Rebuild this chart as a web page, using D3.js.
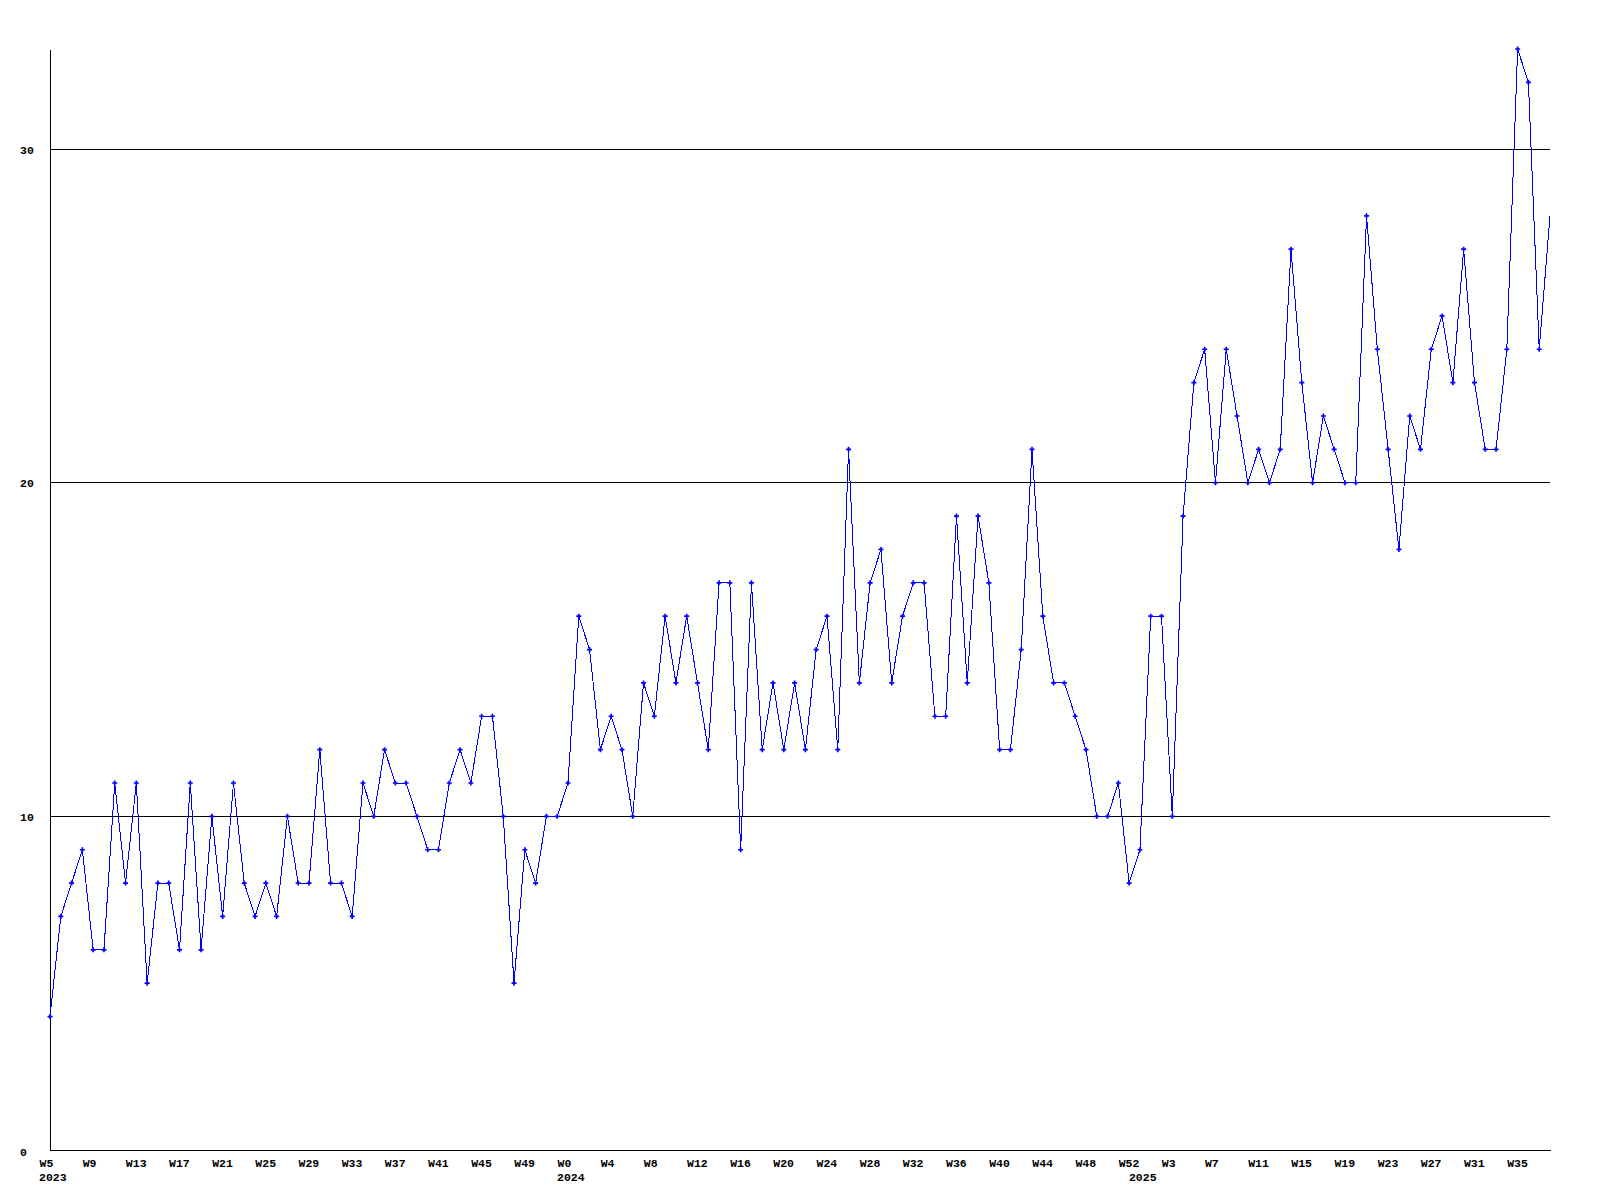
<!DOCTYPE html>
<html>
<head>
<meta charset="utf-8">
<script src="https://cdn.jsdelivr.net/npm/d3@7"></script>
<style>
  html, body { margin: 0; padding: 0; background: #ffffff; }
  svg { display: block; }
  text { font-family: "Liberation Mono", "DejaVu Sans Mono", monospace; font-weight: bold; font-size: 11.5px; fill: #000; }
</style>
</head>
<body>
<svg id="chart" width="1600" height="1200"></svg>
<script>
// ---- data ----
const years = [2023, 2024, 2025];
const firstWeek = [5, 0, 0];
const lastWeek = [52, 52, 38];
const values = [
  4, 7, 8, 9, 6, 6, 11, 8, 11, 5, 8, 8, 6, 11, 6, 10, 7, 11, 8, 7,
  8, 7, 10, 8, 8, 12, 8, 8, 7, 11, 10, 12, 11, 11, 10, 9, 9, 11, 12, 11,
  13, 13, 10, 5, 9, 8, 10,
  10, 11, 16, 15, 12, 13, 12, 10, 14, 13, 16, 14, 16, 14, 12, 17, 17, 9, 17, 12,
  14, 12, 14, 12, 15, 16, 12, 21, 14, 17, 18, 14, 16, 17, 17, 13, 13, 19, 14, 19,
  17, 12, 12, 15, 21, 16, 14, 14, 13, 12, 10, 10, 11, 8, 9,
  16, 16, 10, 19, 23, 24, 20, 24, 22, 20, 21, 20, 21, 27, 23, 20, 22, 21, 20, 20,
  28, 24, 21, 18, 22, 21, 24, 25, 23, 27, 23, 21, 21, 24, 33, 32, 24, 28
];
const yTicks = [0, 10, 20, 30];
const xTickStep = 4;

(function () {
// categories (week label + year of each point)
const categories = [];
years.forEach((yr, k) => {
  for (let w = firstWeek[k]; w <= lastWeek[k]; w++) categories.push({ year: yr, week: w });
});

const svg = d3.select("#chart");
const mLeft = 50, mRight = 1550, mTop = 49, mBottom = 1150;

const x = d3.scaleLinear().domain([0, categories.length - 1]).range([mLeft, mRight]);
const y = d3.scaleLinear().domain([0, 33]).range([mBottom, mTop]);

// gridlines
svg.append("g")
  .selectAll("line")
  .data(yTicks.filter(t => t > 0))
  .join("line")
  .attr("x1", mLeft).attr("x2", mRight)
  .attr("y1", d => y(d)).attr("y2", d => y(d))
  .attr("stroke", "#000").attr("stroke-width", 1)
  .attr("shape-rendering", "crispEdges");

// x axis
const xTickIdx = d3.range(0, categories.length, xTickStep);
const xAxis = svg.append("g")
  .attr("transform", `translate(0,${mBottom})`)
  .call(d3.axisBottom(x).tickValues(xTickIdx).tickFormat(i => "W" + categories[i].week).tickSize(0).tickSizeOuter(0));
xAxis.select(".domain").attr("stroke", "#000").attr("shape-rendering", "crispEdges");
xAxis.selectAll(".tick text")
  .attr("text-anchor", "start")
  .attr("x", -11)
  .attr("y", 17)
  .attr("dy", null);
xAxis.attr("font-family", null).attr("font-size", null);

// year labels at first point of each year
const yearStarts = categories.map((c, i) => ({ c, i })).filter(({ c, i }) => i === 0 || categories[i - 1].year !== c.year);
svg.append("g")
  .selectAll("text")
  .data(yearStarts)
  .join("text")
  .attr("x", d => x(d.i) - 11)
  .attr("y", mBottom + 31)
  .text(d => d.c.year);

// y axis
const yAxis = svg.append("g")
  .attr("transform", `translate(${mLeft},0)`)
  .call(d3.axisLeft(y).tickValues(yTicks).tickFormat(d3.format("d")).tickSize(0).tickSizeOuter(0));
yAxis.select(".domain").attr("stroke", "#000").attr("shape-rendering", "crispEdges");
yAxis.selectAll(".tick text")
  .attr("text-anchor", "start")
  .attr("x", -30)
  .attr("dy", d => d === 0 ? "5.5px" : "4px");
yAxis.attr("font-family", null).attr("font-size", null);

// line
const line = d3.line().x((d, i) => x(i)).y(d => y(d));
svg.append("path")
  .datum(values)
  .attr("d", line)
  .attr("fill", "none")
  .attr("stroke", "#0000ff")
  .attr("stroke-width", 1)
  .attr("shape-rendering", "crispEdges");

// markers
const marker = d3.symbol().type(d3.symbolCross).size(14);
svg.append("g")
  .selectAll("path")
  .data(values.map((v, i) => ({ v, i })).filter(d => d.i < values.length - 1))
  .join("path")
  .attr("d", marker)
  .attr("transform", d => `translate(${x(d.i)},${y(d.v)})`)
  .attr("fill", "#0000ff");
})();
</script>
</body>
</html>
